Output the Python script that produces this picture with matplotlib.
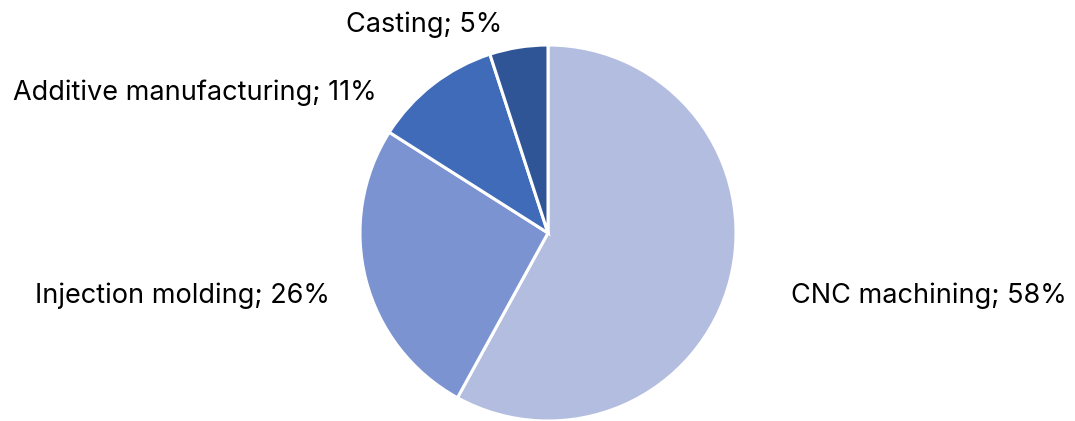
import matplotlib
matplotlib.use("Agg")
import matplotlib.pyplot as plt

# Parts by manufacturing process
processes = ["CNC machining", "Injection molding", "Additive manufacturing", "Casting"]
shares = [58, 26, 11, 5]
colors = ["#b3bddf", "#7b93d0", "#3f6bb8", "#2f5597"]

# label anchor points (pie units) and alignment
label_pos = [(1.29, -0.335), (-1.16, -0.335), (-0.91, 0.745), (-0.66, 1.11)]
label_ha = ["left", "right", "right", "center"]

plt.rcParams["font.family"] = ["Inter", "DejaVu Sans"]

fig = plt.figure(figsize=(10.75, 4.21), dpi=100)
ax = fig.add_axes([360 / 1075, 0 / 421, 376 / 1075, 376 / 421])

wedges, _ = ax.pie(shares, colors=colors, startangle=90, counterclock=False,
                   radius=1, wedgeprops=dict(edgecolor="white", linewidth=2.2))
ax.set_xlim(-1, 1)
ax.set_ylim(-1, 1)
ax.set_aspect("equal")
ax.axis("off")

for name, val, (x, y), ha in zip(processes, shares, label_pos, label_ha):
    ax.text(x, y, f"{name}; {val}%", ha=ha, va="center", fontsize=19.5, color="black")

fig.savefig("out.png", dpi=100)
